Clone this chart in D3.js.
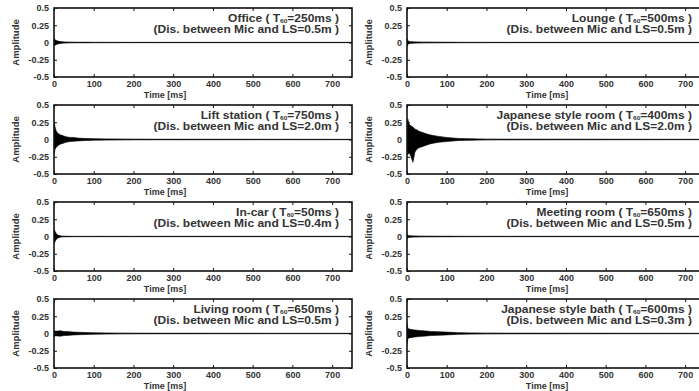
<!DOCTYPE html>
<html><head><meta charset="utf-8">
<script src="https://cdn.jsdelivr.net/npm/d3@7"></script>
<style>body{margin:0;background:#fff;}svg{display:block;font-family:"Liberation Sans",Arial,sans-serif;}</style>
</head><body>
<svg id="c" width="699" height="391"></svg>
<script>
// ---- data ----
const rooms = ["Office","Lounge","Lift station","Japanese style room","In-car","Meeting room","Living room","Japanese style bath"];
const t60 = [250, 500, 750, 400, 50, 650, 650, 600];
const dist = ["0.5","0.5","2.0","2.0","0.4","0.5","0.5","0.3"];
const xTicks = [0,100,200,300,400,500,600,700];
const yTicks = [-0.5,-0.25,0,0.25,0.5];
const yTickLabels = ["-0.5","-0.25","0","0.25","0.5"];
// envelope sample times (ms)
const envTime = [0,1,2,4,6,8,10,15,20,25,30,40,50,60,80,100,130,160,200,250,750];
const officeUp = [0.06,0.05,0.04,0.035,0.03,0.025,0.02,0.015,0.01,0.008,0.006,0.004,0.003,0.002,0.002,0.001,0.001,0,0,0,0];
const officeLo = [-0.04,-0.05,-0.04,-0.035,-0.03,-0.025,-0.02,-0.015,-0.01,-0.008,-0.006,-0.004,-0.003,-0.002,-0.002,-0.001,-0.001,0,0,0,0];
const loungeUp = [0.05,0.05,0.03,0.02,0.015,0.012,0.01,0.01,0.008,0.008,0.006,0.005,0.005,0.004,0.003,0.002,0.001,0.001,0,0,0];
const loungeLo = [-0.04,-0.05,-0.03,-0.02,-0.015,-0.012,-0.01,-0.01,-0.008,-0.008,-0.006,-0.005,-0.005,-0.004,-0.003,-0.002,-0.001,-0.001,0,0,0];
const liftUp = [0.1,0.25,0.2,0.15,0.12,0.1,0.09,0.07,0.06,0.05,0.04,0.03,0.03,0.02,0.015,0.012,0.008,0.006,0.004,0.002,0];
const liftLo = [-0.1,-0.2,-0.15,-0.13,-0.11,-0.1,-0.09,-0.07,-0.06,-0.05,-0.04,-0.03,-0.025,-0.02,-0.015,-0.01,-0.008,-0.005,-0.003,-0.002,0];
const jroomUp = [0.15,0.25,0.3,0.25,0.22,0.2,0.2,0.18,0.15,0.14,0.12,0.1,0.08,0.065,0.045,0.03,0.015,0.01,0.005,0.003,0];
const jroomLo = [-0.15,-0.2,-0.22,-0.2,-0.2,-0.22,-0.25,-0.33,-0.18,-0.14,-0.12,-0.1,-0.08,-0.06,-0.04,-0.03,-0.015,-0.01,-0.005,-0.003,0];
const carUp = [0.1,0.1,0.08,0.06,0.04,0.03,0.02,0.01,0.005,0.003,0.002,0.001,0,0,0,0,0,0,0,0,0];
const carLo = [-0.1,-0.1,-0.08,-0.06,-0.04,-0.03,-0.02,-0.01,-0.005,-0.003,-0.002,-0.001,0,0,0,0,0,0,0,0,0];
const meetUp = [0.03,0.03,0.02,0.015,0.012,0.01,0.01,0.008,0.007,0.006,0.005,0.004,0.003,0.003,0.002,0.002,0.001,0.001,0,0,0];
const meetLo = [-0.03,-0.03,-0.02,-0.015,-0.012,-0.01,-0.01,-0.008,-0.007,-0.006,-0.005,-0.004,-0.003,-0.003,-0.002,-0.002,-0.001,-0.001,0,0,0];
const livingUp = [0.04,0.04,0.035,0.035,0.035,0.035,0.035,0.04,0.035,0.03,0.03,0.025,0.02,0.018,0.014,0.01,0.007,0.005,0.003,0.002,0];
const livingLo = [-0.04,-0.04,-0.035,-0.035,-0.035,-0.035,-0.035,-0.04,-0.035,-0.03,-0.03,-0.025,-0.02,-0.018,-0.014,-0.01,-0.007,-0.005,-0.003,-0.002,0];
const bathUp = [0.15,0.12,0.08,0.07,0.065,0.06,0.06,0.055,0.05,0.048,0.045,0.04,0.035,0.03,0.025,0.02,0.012,0.008,0.005,0.003,0];
const bathLo = [-0.15,-0.12,-0.08,-0.07,-0.065,-0.06,-0.06,-0.055,-0.05,-0.048,-0.045,-0.04,-0.035,-0.03,-0.025,-0.02,-0.012,-0.008,-0.005,-0.003,0];
const envUp = [officeUp, loungeUp, liftUp, jroomUp, carUp, meetUp, livingUp, bathUp];
const envLo = [officeLo, loungeLo, liftLo, jroomLo, carLo, meetLo, livingLo, bathLo];

// ---- layout ----
const svg = d3.select("#c");
const colLeft = [54, 407];
const timeLabelOffset = [111, 140];
const rowTop = [8, 105, 202, 299];
const pw = 298, ph = 69;
const ink = "#111";

rooms.forEach((name, i) => {
  const col = i % 2, row = Math.floor(i / 2);
  const x0 = colLeft[col], y0 = rowTop[row];
  const x = d3.scaleLinear().domain([0, 750]).range([x0, x0 + pw]);
  const y = d3.scaleLinear().domain([-0.5, 0.5]).range([y0 + ph, y0]);
  const g = svg.append("g");
  const cid = "clip" + i;
  svg.append("clipPath").attr("id", cid).append("rect")
    .attr("x", x0).attr("y", y0).attr("width", pw).attr("height", ph);
  const pg = g.append("g").attr("clip-path", `url(#${cid})`);
  // tail / zero line
  pg.append("line").attr("x1", x(0)).attr("x2", x(750)).attr("y1", y(0)).attr("y2", y(0))
    .attr("stroke", "#8a8a8a").attr("stroke-width", 1.3);
  const pts = envTime.map((t, k) => ({t, u: envUp[i][k], l: envLo[i][k]}));
  const area = d3.area().x(d => x(d.t)).y0(d => y(d.l)).y1(d => y(d.u));
  pg.append("path").datum(pts).attr("d", area)
    .attr("fill", "#000").attr("stroke", "#000").attr("stroke-width", 0.6).attr("stroke-linejoin", "round");
  // frame
  g.append("rect").attr("x", x0).attr("y", y0).attr("width", pw).attr("height", ph)
    .attr("fill", "none").attr("stroke", ink).attr("stroke-width", 1.6);
  // axes
  const ax = g.append("g").attr("transform", `translate(0,${y0 + ph})`)
    .call(d3.axisBottom(x).tickValues(xTicks).tickSizeInner(-3).tickSizeOuter(0).tickPadding(4));
  const axTop = g.append("g").attr("transform", `translate(0,${y0})`)
    .call(d3.axisTop(x).tickValues(xTicks).tickSizeInner(-3).tickSizeOuter(0).tickFormat(""));
  const ay = g.append("g").attr("transform", `translate(${x0},0)`)
    .call(d3.axisLeft(y).tickValues(yTicks).tickSizeInner(-3).tickSizeOuter(0).tickPadding(5)
      .tickFormat((d, k) => yTickLabels[k]));
  const ayR = g.append("g").attr("transform", `translate(${x0 + pw},0)`)
    .call(d3.axisRight(y).tickValues(yTicks).tickSizeInner(-3).tickSizeOuter(0).tickFormat(""));
  [ax, axTop, ay, ayR].forEach(a => {
    a.select(".domain").remove();
    a.selectAll(".tick line").attr("stroke", ink).attr("stroke-width", 1);
    a.selectAll("text").attr("font-size", 9).attr("font-weight", "bold").attr("fill", "#333")
      .attr("font-family", "'Liberation Sans',Arial,sans-serif");
  });
  // axis labels
  g.append("text").attr("x", x0 + timeLabelOffset[col]).attr("y", y0 + ph + 20.5)
    .attr("text-anchor", "middle").attr("font-size", 9).attr("font-weight", "bold").attr("fill", "#333")
    .text("Time [ms]");
  g.append("text").attr("transform", `translate(${x0 - 35},${y0 + ph / 2}) rotate(-90)`)
    .attr("text-anchor", "middle").attr("font-size", 9.5).attr("font-weight", "bold").attr("fill", "#333")
    .text("Amplitude");
  // titles
  const tx = x0 + pw - 13;
  const t1 = g.append("text").attr("transform", `translate(${tx},${y0 + 13.7}) scale(1.2,1)`)
    .attr("text-anchor", "end").attr("font-size", 10).attr("font-weight", "bold").attr("fill", "#333");
  t1.append("tspan").text(name + " ( T");
  t1.append("tspan").attr("font-size", 5.5).attr("dy", 1.5).text("60");
  t1.append("tspan").attr("dy", -1.5).text("=" + t60[i] + "ms )");
  g.append("text").attr("transform", `translate(${tx},${y0 + 24.7}) scale(1.2,1)`)
    .attr("text-anchor", "end").attr("font-size", 10).attr("font-weight", "bold").attr("fill", "#333")
    .text("(Dis. between Mic and LS=" + dist[i] + "m )");
});
</script>
</body></html>
